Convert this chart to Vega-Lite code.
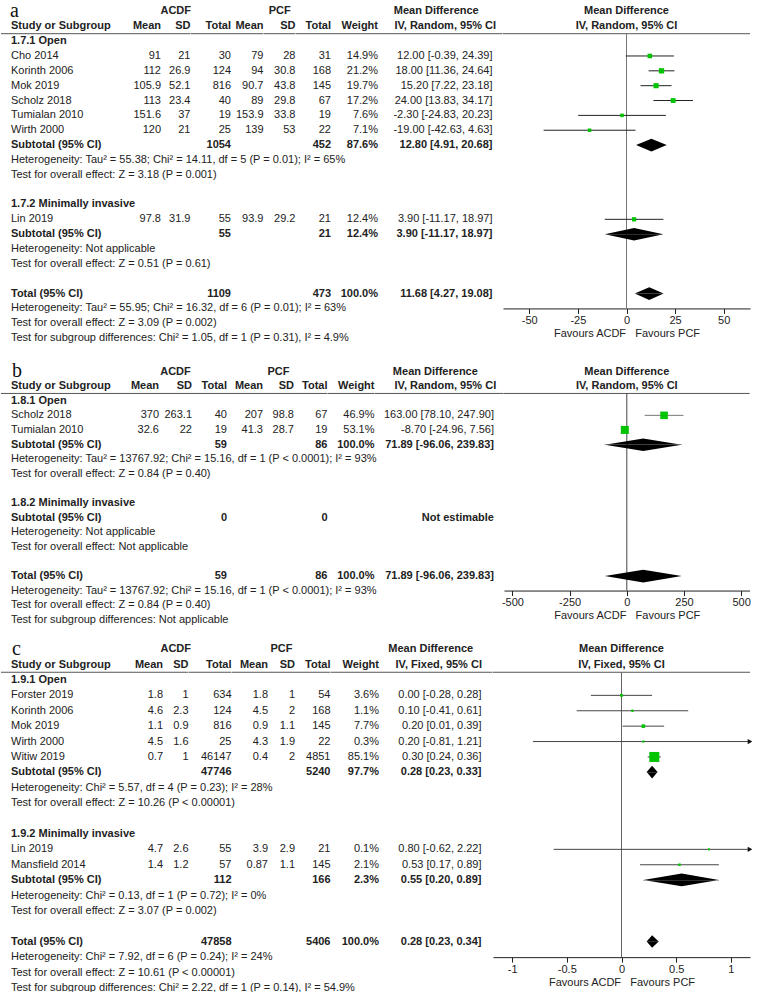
{
"$schema": "https://vega.github.io/schema/vega-lite/v6.json",
"padding": 0,
"background": "white",
"spacing": 14.25,
"config": {
 "view": {"stroke": null},
 "text": {"font": "Liberation Sans", "fontSize": 11, "color": "#222"},
 "axis": {"grid": false, "labelFont": "Liberation Sans", "labelFontSize": 11, "labelColor": "#222", "titleFont": "Liberation Sans", "titleFontSize": 11, "titleFontWeight": "normal", "titleColor": "#222", "domainColor": "#222", "tickColor": "#222", "tickSize": 5, "labelPadding": 1, "titlePadding": 2, "labelFlush": false}
},
"datasets": {
 "A": [
  {"r":1,"k":"h1","lab":"a","s1":"ACDF","s2":"PCF","ci":"Mean Difference","ph":"Mean Difference"},
  {"r":2,"k":"h2","lab":"Study or Subgroup","m1":"Mean","s1":"SD","n1":"Total","m2":"Mean","s2":"SD","n2":"Total","w":"Weight","ci":"IV, Random, 95% CI","ph":"IV, Random, 95% CI"},
  {"r":3,"k":"g","lab":"1.7.1 Open"},
  {"r":4,"k":"s","lab":"Cho 2014","m1":91,"s1":21,"n1":30,"m2":79,"s2":28,"n2":31,"w":0.149,"ci":"12.00 [-0.39, 24.39]","md":12,"lo":-0.39,"hi":24.39},
  {"r":5,"k":"s","lab":"Korinth 2006","m1":112,"s1":26.9,"n1":124,"m2":94,"s2":30.8,"n2":168,"w":0.212,"ci":"18.00 [11.36, 24.64]","md":18,"lo":11.36,"hi":24.64},
  {"r":6,"k":"s","lab":"Mok 2019","m1":105.9,"s1":52.1,"n1":816,"m2":90.7,"s2":43.8,"n2":145,"w":0.197,"ci":"15.20 [7.22, 23.18]","md":15.2,"lo":7.22,"hi":23.18},
  {"r":7,"k":"s","lab":"Scholz 2018","m1":113,"s1":23.4,"n1":40,"m2":89,"s2":29.8,"n2":67,"w":0.172,"ci":"24.00 [13.83, 34.17]","md":24,"lo":13.83,"hi":34.17},
  {"r":8,"k":"s","lab":"Tumialan 2010","m1":151.6,"s1":37,"n1":19,"m2":153.9,"s2":33.8,"n2":19,"w":0.076,"ci":"-2.30 [-24.83, 20.23]","md":-2.3,"lo":-24.83,"hi":20.23},
  {"r":9,"k":"s","lab":"Wirth 2000","m1":120,"s1":21,"n1":25,"m2":139,"s2":53,"n2":22,"w":0.071,"ci":"-19.00 [-42.63, 4.63]","md":-19,"lo":-42.63,"hi":4.63},
  {"r":10,"k":"sub","lab":"Subtotal (95% CI)","n1":1054,"n2":452,"w":0.876,"ci":"12.80 [4.91, 20.68]","md":12.8,"lo":4.91,"hi":20.68},
  {"r":11,"k":"n","lab":"Heterogeneity: Tau² = 55.38; Chi² = 14.11, df = 5 (P = 0.01); I² = 65%"},
  {"r":12,"k":"n","lab":"Test for overall effect: Z = 3.18 (P = 0.001)"},
  {"r":14,"k":"g","lab":"1.7.2 Minimally invasive"},
  {"r":15,"k":"s","lab":"Lin 2019","m1":97.8,"s1":31.9,"n1":55,"m2":93.9,"s2":29.2,"n2":21,"w":0.124,"ci":"3.90 [-11.17, 18.97]","md":3.9,"lo":-11.17,"hi":18.97},
  {"r":16,"k":"sub","lab":"Subtotal (95% CI)","n1":55,"n2":21,"w":0.124,"ci":"3.90 [-11.17, 18.97]","md":3.9,"lo":-11.17,"hi":18.97},
  {"r":17,"k":"n","lab":"Heterogeneity: Not applicable"},
  {"r":18,"k":"n","lab":"Test for overall effect: Z = 0.51 (P = 0.61)"},
  {"r":20,"k":"tot","lab":"Total (95% CI)","n1":1109,"n2":473,"w":1,"ci":"11.68 [4.27, 19.08]","md":11.68,"lo":4.27,"hi":19.08},
  {"r":21,"k":"n","lab":"Heterogeneity: Tau² = 55.95; Chi² = 16.32, df = 6 (P = 0.01); I² = 63%"},
  {"r":22,"k":"n","lab":"Test for overall effect: Z = 3.09 (P = 0.002)"},
  {"r":23,"k":"n","lab":"Test for subgroup differences: Chi² = 1.05, df = 1 (P = 0.31), I² = 4.9%"}
 ],
 "B": [
  {"r":1,"k":"h1","lab":"b","s1":"ACDF","s2":"PCF","ci":"Mean Difference","ph":"Mean Difference"},
  {"r":2,"k":"h2","lab":"Study or Subgroup","m1":"Mean","s1":"SD","n1":"Total","m2":"Mean","s2":"SD","n2":"Total","w":"Weight","ci":"IV, Random, 95% CI","ph":"IV, Random, 95% CI"},
  {"r":3,"k":"g","lab":"1.8.1 Open"},
  {"r":4,"k":"s","lab":"Scholz 2018","m1":370,"s1":263.1,"n1":40,"m2":207,"s2":98.8,"n2":67,"w":0.469,"ci":"163.00 [78.10, 247.90]","md":163,"lo":78.1,"hi":247.9},
  {"r":5,"k":"s","lab":"Tumialan 2010","m1":32.6,"s1":22,"n1":19,"m2":41.3,"s2":28.7,"n2":19,"w":0.531,"ci":"-8.70 [-24.96, 7.56]","md":-8.7,"lo":-24.96,"hi":7.56},
  {"r":6,"k":"sub","lab":"Subtotal (95% CI)","n1":59,"n2":86,"w":1,"ci":"71.89 [-96.06, 239.83]","md":71.89,"lo":-96.06,"hi":239.83},
  {"r":7,"k":"n","lab":"Heterogeneity: Tau² = 13767.92; Chi² = 15.16, df = 1 (P < 0.0001); I² = 93%"},
  {"r":8,"k":"n","lab":"Test for overall effect: Z = 0.84 (P = 0.40)"},
  {"r":10,"k":"g","lab":"1.8.2 Minimally invasive"},
  {"r":11,"k":"sub","lab":"Subtotal (95% CI)","n1":0,"n2":0,"ci":"Not estimable"},
  {"r":12,"k":"n","lab":"Heterogeneity: Not applicable"},
  {"r":13,"k":"n","lab":"Test for overall effect: Not applicable"},
  {"r":15,"k":"tot","lab":"Total (95% CI)","n1":59,"n2":86,"w":1,"ci":"71.89 [-96.06, 239.83]","md":71.89,"lo":-96.06,"hi":239.83},
  {"r":16,"k":"n","lab":"Heterogeneity: Tau² = 13767.92; Chi² = 15.16, df = 1 (P < 0.0001); I² = 93%"},
  {"r":17,"k":"n","lab":"Test for overall effect: Z = 0.84 (P = 0.40)"},
  {"r":18,"k":"n","lab":"Test for subgroup differences: Not applicable"}
 ],
 "C": [
  {"r":1,"k":"h1","lab":"c","s1":"ACDF","s2":"PCF","ci":"Mean Difference","ph":"Mean Difference"},
  {"r":2,"k":"h2","lab":"Study or Subgroup","m1":"Mean","s1":"SD","n1":"Total","m2":"Mean","s2":"SD","n2":"Total","w":"Weight","ci":"IV, Fixed, 95% CI","ph":"IV, Fixed, 95% CI"},
  {"r":3,"k":"g","lab":"1.9.1 Open"},
  {"r":4,"k":"s","lab":"Forster 2019","m1":1.8,"s1":1,"n1":634,"m2":1.8,"s2":1,"n2":54,"w":0.036,"ci":"0.00 [-0.28, 0.28]","md":0,"lo":-0.28,"hi":0.28},
  {"r":5,"k":"s","lab":"Korinth 2006","m1":4.6,"s1":2.3,"n1":124,"m2":4.5,"s2":2,"n2":168,"w":0.011,"ci":"0.10 [-0.41, 0.61]","md":0.1,"lo":-0.41,"hi":0.61},
  {"r":6,"k":"s","lab":"Mok 2019","m1":1.1,"s1":0.9,"n1":816,"m2":0.9,"s2":1.1,"n2":145,"w":0.077,"ci":"0.20 [0.01, 0.39]","md":0.2,"lo":0.01,"hi":0.39},
  {"r":7,"k":"s","lab":"Wirth 2000","m1":4.5,"s1":1.6,"n1":25,"m2":4.3,"s2":1.9,"n2":22,"w":0.003,"ci":"0.20 [-0.81, 1.21]","md":0.2,"lo":-0.81,"hi":1.21},
  {"r":8,"k":"s","lab":"Witiw 2019","m1":0.7,"s1":1,"n1":46147,"m2":0.4,"s2":2,"n2":4851,"w":0.851,"ci":"0.30 [0.24, 0.36]","md":0.3,"lo":0.24,"hi":0.36},
  {"r":9,"k":"sub","lab":"Subtotal (95% CI)","n1":47746,"n2":5240,"w":0.977,"ci":"0.28 [0.23, 0.33]","md":0.28,"lo":0.23,"hi":0.33},
  {"r":10,"k":"n","lab":"Heterogeneity: Chi² = 5.57, df = 4 (P = 0.23); I² = 28%"},
  {"r":11,"k":"n","lab":"Test for overall effect: Z = 10.26 (P < 0.00001)"},
  {"r":13,"k":"g","lab":"1.9.2 Minimally invasive"},
  {"r":14,"k":"s","lab":"Lin 2019","m1":4.7,"s1":2.6,"n1":55,"m2":3.9,"s2":2.9,"n2":21,"w":0.001,"ci":"0.80 [-0.62, 2.22]","md":0.8,"lo":-0.62,"hi":2.22},
  {"r":15,"k":"s","lab":"Mansfield 2014","m1":1.4,"s1":1.2,"n1":57,"m2":0.87,"s2":1.1,"n2":145,"w":0.021,"ci":"0.53 [0.17, 0.89]","md":0.53,"lo":0.17,"hi":0.89},
  {"r":16,"k":"sub","lab":"Subtotal (95% CI)","n1":112,"n2":166,"w":0.023,"ci":"0.55 [0.20, 0.89]","md":0.55,"lo":0.2,"hi":0.89},
  {"r":17,"k":"n","lab":"Heterogeneity: Chi² = 0.13, df = 1 (P = 0.72); I² = 0%"},
  {"r":18,"k":"n","lab":"Test for overall effect: Z = 3.07 (P = 0.002)"},
  {"r":20,"k":"tot","lab":"Total (95% CI)","n1":47858,"n2":5406,"w":1,"ci":"0.28 [0.23, 0.34]","md":0.28,"lo":0.23,"hi":0.34},
  {"r":21,"k":"n","lab":"Heterogeneity: Chi² = 7.92, df = 6 (P = 0.24); I² = 24%"},
  {"r":22,"k":"n","lab":"Test for overall effect: Z = 10.61 (P < 0.00001)"},
  {"r":23,"k":"n","lab":"Test for subgroup differences: Chi² = 2.22, df = 1 (P = 0.14), I² = 54.9%"}
 ]
},
"vconcat": [
 {"spacing": 0, "bounds": "flush", "hconcat": [
  {"width":130,"height":341.55,"data":{"name":"A"},"encoding":{"y":{"field":"r","type":"quantitative","scale":{"domain":[0.5,23.5],"reverse":true,"nice":false,"zero":false},"axis":null}},"layer":[
   {"transform":[{"filter":"datum.k=='h2'"}],"mark":{"type":"rule","color":"#555"},"encoding":{"y":{"datum":2.5,"type":"quantitative"}}},
   {"transform":[{"filter":"datum.k=='h1'"}],"mark":{"type":"text","align":"left","baseline":"alphabetic","font":"Liberation Serif","fontSize":20,"color":"#111","dx":9,"dy":5.5},"encoding":{"x":{"value":0},"text":{"field":"lab","type":"nominal"}}},
   {"transform":[{"filter":"datum.k=='h2'||datum.k=='g'||datum.k=='sub'||datum.k=='tot'"}],"mark":{"type":"text","align":"left","fontWeight":"bold","dx":10},"encoding":{"x":{"value":0},"text":{"field":"lab","type":"nominal"}}},
   {"transform":[{"filter":"datum.k=='s'||datum.k=='n'"}],"mark":{"type":"text","align":"left","dx":10},"encoding":{"x":{"value":0},"text":{"field":"lab","type":"nominal"}}}
  ]},
  {"width":30,"height":341.55,"data":{"name":"A"},"encoding":{"y":{"field":"r","type":"quantitative","scale":{"domain":[0.5,23.5],"reverse":true,"nice":false,"zero":false},"axis":null}},"layer":[
   {"transform":[{"filter":"datum.k=='h2'"}],"mark":{"type":"rule","color":"#555"},"encoding":{"y":{"datum":2.5,"type":"quantitative"}}},
   {"transform":[{"filter":"datum.k=='h2'"}],"mark":{"type":"text","align":"right","fontWeight":"bold"},"encoding":{"x":{"value":"width"},"text":{"field":"m1","type":"nominal"}}},
   {"transform":[{"filter":"datum.k=='s'"}],"mark":{"type":"text","align":"right"},"encoding":{"x":{"value":"width"},"text":{"field":"m1","type":"nominal"}}}
  ]},
  {"width":29.5,"height":341.55,"data":{"name":"A"},"encoding":{"y":{"field":"r","type":"quantitative","scale":{"domain":[0.5,23.5],"reverse":true,"nice":false,"zero":false},"axis":null}},"layer":[
   {"transform":[{"filter":"datum.k=='h2'"}],"mark":{"type":"rule","color":"#555"},"encoding":{"y":{"datum":2.5,"type":"quantitative"}}},
   {"transform":[{"filter":"datum.k=='h1'"}],"mark":{"type":"text","fontWeight":"bold"},"encoding":{"text":{"field":"s1","type":"nominal"}}},
   {"transform":[{"filter":"datum.k=='h2'"}],"mark":{"type":"text","align":"right","fontWeight":"bold"},"encoding":{"x":{"value":"width"},"text":{"field":"s1","type":"nominal"}}},
   {"transform":[{"filter":"datum.k=='s'"}],"mark":{"type":"text","align":"right"},"encoding":{"x":{"value":"width"},"text":{"field":"s1","type":"nominal"}}}
  ]},
  {"width":40,"height":341.55,"data":{"name":"A"},"encoding":{"y":{"field":"r","type":"quantitative","scale":{"domain":[0.5,23.5],"reverse":true,"nice":false,"zero":false},"axis":null}},"layer":[
   {"transform":[{"filter":"datum.k=='h2'"}],"mark":{"type":"rule","color":"#555"},"encoding":{"y":{"datum":2.5,"type":"quantitative"}}},
   {"transform":[{"filter":"datum.k=='h2'||datum.k=='sub'||datum.k=='tot'"}],"mark":{"type":"text","align":"right","fontWeight":"bold"},"encoding":{"x":{"value":"width"},"text":{"field":"n1","type":"nominal"}}},
   {"transform":[{"filter":"datum.k=='s'"}],"mark":{"type":"text","align":"right"},"encoding":{"x":{"value":"width"},"text":{"field":"n1","type":"nominal"}}}
  ]},
  {"width":32.5,"height":341.55,"data":{"name":"A"},"encoding":{"y":{"field":"r","type":"quantitative","scale":{"domain":[0.5,23.5],"reverse":true,"nice":false,"zero":false},"axis":null}},"layer":[
   {"transform":[{"filter":"datum.k=='h2'"}],"mark":{"type":"rule","color":"#555"},"encoding":{"y":{"datum":2.5,"type":"quantitative"}}},
   {"transform":[{"filter":"datum.k=='h2'"}],"mark":{"type":"text","align":"right","fontWeight":"bold"},"encoding":{"x":{"value":"width"},"text":{"field":"m2","type":"nominal"}}},
   {"transform":[{"filter":"datum.k=='s'"}],"mark":{"type":"text","align":"right"},"encoding":{"x":{"value":"width"},"text":{"field":"m2","type":"nominal"}}}
  ]},
  {"width":31.5,"height":341.55,"data":{"name":"A"},"encoding":{"y":{"field":"r","type":"quantitative","scale":{"domain":[0.5,23.5],"reverse":true,"nice":false,"zero":false},"axis":null}},"layer":[
   {"transform":[{"filter":"datum.k=='h2'"}],"mark":{"type":"rule","color":"#555"},"encoding":{"y":{"datum":2.5,"type":"quantitative"}}},
   {"transform":[{"filter":"datum.k=='h1'"}],"mark":{"type":"text","fontWeight":"bold"},"encoding":{"text":{"field":"s2","type":"nominal"}}},
   {"transform":[{"filter":"datum.k=='h2'"}],"mark":{"type":"text","align":"right","fontWeight":"bold"},"encoding":{"x":{"value":"width"},"text":{"field":"s2","type":"nominal"}}},
   {"transform":[{"filter":"datum.k=='s'"}],"mark":{"type":"text","align":"right"},"encoding":{"x":{"value":"width"},"text":{"field":"s2","type":"nominal"}}}
  ]},
  {"width":35,"height":341.55,"data":{"name":"A"},"encoding":{"y":{"field":"r","type":"quantitative","scale":{"domain":[0.5,23.5],"reverse":true,"nice":false,"zero":false},"axis":null}},"layer":[
   {"transform":[{"filter":"datum.k=='h2'"}],"mark":{"type":"rule","color":"#555"},"encoding":{"y":{"datum":2.5,"type":"quantitative"}}},
   {"transform":[{"filter":"datum.k=='h2'||datum.k=='sub'||datum.k=='tot'"}],"mark":{"type":"text","align":"right","fontWeight":"bold"},"encoding":{"x":{"value":"width"},"text":{"field":"n2","type":"nominal"}}},
   {"transform":[{"filter":"datum.k=='s'"}],"mark":{"type":"text","align":"right"},"encoding":{"x":{"value":"width"},"text":{"field":"n2","type":"nominal"}}}
  ]},
  {"width":47,"height":341.55,"data":{"name":"A"},"encoding":{"y":{"field":"r","type":"quantitative","scale":{"domain":[0.5,23.5],"reverse":true,"nice":false,"zero":false},"axis":null}},"layer":[
   {"transform":[{"filter":"datum.k=='h2'"}],"mark":{"type":"rule","color":"#555"},"encoding":{"y":{"datum":2.5,"type":"quantitative"}}},
   {"transform":[{"filter":"datum.k=='h2'"}],"mark":{"type":"text","align":"right","fontWeight":"bold"},"encoding":{"x":{"value":"width"},"text":{"field":"w","type":"nominal"}}},
   {"transform":[{"filter":"(datum.k=='sub'||datum.k=='tot')&&isValid(datum.w)"}],"mark":{"type":"text","align":"right","fontWeight":"bold"},"encoding":{"x":{"value":"width"},"text":{"field":"w","type":"quantitative","format":".1%"}}},
   {"transform":[{"filter":"datum.k=='s'"}],"mark":{"type":"text","align":"right"},"encoding":{"x":{"value":"width"},"text":{"field":"w","type":"quantitative","format":".1%"}}}
  ]},
  {"width":124.5,"height":341.55,"data":{"name":"A"},"encoding":{"y":{"field":"r","type":"quantitative","scale":{"domain":[0.5,23.5],"reverse":true,"nice":false,"zero":false},"axis":null}},"layer":[
   {"transform":[{"filter":"datum.k=='h2'"}],"mark":{"type":"rule","color":"#555"},"encoding":{"y":{"datum":2.5,"type":"quantitative"}}},
   {"transform":[{"filter":"datum.k=='h1'"}],"mark":{"type":"text","fontWeight":"bold","dx":-4},"encoding":{"text":{"field":"ci","type":"nominal"}}},
   {"transform":[{"filter":"datum.k=='h2'"}],"mark":{"type":"text","fontWeight":"bold","dx":5},"encoding":{"text":{"field":"ci","type":"nominal"}}},
   {"transform":[{"filter":"datum.k=='sub'||datum.k=='tot'"}],"mark":{"type":"text","align":"right","fontWeight":"bold","dx":-10},"encoding":{"x":{"value":"width"},"text":{"field":"ci","type":"nominal"}}},
   {"transform":[{"filter":"datum.k=='s'"}],"mark":{"type":"text","align":"right","dx":-10},"encoding":{"x":{"value":"width"},"text":{"field":"ci","type":"nominal"}}}
  ]},
  {"width":247,"height":304.425,"data":{"name":"A"},"encoding":{"y":{"field":"r","type":"ordinal","scale":{"type":"band","domain":[1,2,3,4,5,6,7,8,9,10,11,12,13,14,15,16,17,18,19,20],"paddingInner":0,"paddingOuter":0.25,"align":0},"axis":null}},
   "layer":[
   {"transform":[{"filter":"datum.k=='h1'||datum.k=='h2'"}],"mark":{"type":"text","fontWeight":"bold"},"encoding":{"x":{"datum":0,"type":"quantitative","scale":{"domain":[-63.5,63.5],"nice":false,"zero":false},"axis":{"values":[-50,-25,0,25,50],"title":"Favours ACDF\u00a0\u00a0\u00a0Favours PCF","labelExpr":"''+datum.value"}},"text":{"field":"ph","type":"nominal"}}},
   {"transform":[{"filter":"datum.k=='h2'"}],"mark":{"type":"rule","color":"#555","yOffset":7.425},"encoding":{}},
   {"transform":[{"filter":"datum.k=='h2'"}],"mark":{"type":"rule","color":"#777","yOffset":7.425},"encoding":{"x":{"datum":0,"type":"quantitative"},"y":{"datum":2,"type":"ordinal"},"y2":{"value":"height"}}},
   {"transform":[{"filter":"datum.k=='s'"}],"mark":{"type":"rule","color":"#222"},"encoding":{"x":{"field":"lo","type":"quantitative"},"x2":{"field":"hi"}}},
   {"transform":[{"filter":"datum.k=='s'"}],"mark":{"type":"point","shape":"square","filled":true,"color":"#00C400","opacity":1},"encoding":{"x":{"field":"md","type":"quantitative"},"size":{"field":"w","type":"quantitative","scale":{"domain":[0,1],"range":[4,117]},"legend":null}}},
   {"transform":[{"filter":"(datum.k=='sub'||datum.k=='tot')&&isValid(datum.md)"},{"fold":["lo","md","hi"],"as":["vk","vx"]},{"window":[{"op":"row_number","as":"vi"}],"groupby":["r"],"sort":[{"field":"vk","order":"ascending"}]}],"mark":{"type":"area","color":"#000","orient":"vertical","opacity":1},"encoding":{"x":{"field":"vx","type":"quantitative","stack":null},"y2":{"field":"r"},"yOffset":{"field":"vi","type":"quantitative","scale":{"domain":[0,0.5,2,3],"range":[13.725,7.425,7.425,1.125],"nice":false,"zero":false}},"detail":{"field":"r","type":"nominal"}}},
   {"transform":[{"filter":"(datum.k=='sub'||datum.k=='tot')&&isValid(datum.md)"},{"fold":["lo","md","hi"],"as":["vk","vx"]},{"window":[{"op":"percent_rank","as":"vi"}],"groupby":["r"],"sort":[{"field":"vk","order":"descending"}]}],"mark":{"type":"area","color":"#000","orient":"vertical","opacity":1},"encoding":{"x":{"field":"vx","type":"quantitative","stack":null},"y2":{"field":"r"},"yOffset":{"field":"vi","type":"quantitative"},"detail":{"field":"r","type":"nominal"}}}
  ]}
 ]},
 {"spacing": 11.2, "vconcat": [
  {"spacing": 0, "bounds": "flush", "hconcat": [
   {"width":130,"height":262.8,"data":{"name":"B"},"encoding":{"y":{"field":"r","type":"quantitative","scale":{"domain":[0.5,18.5],"reverse":true,"nice":false,"zero":false},"axis":null}},"layer":[
    {"transform":[{"filter":"datum.k=='h2'"}],"mark":{"type":"rule","color":"#555"},"encoding":{"y":{"datum":2.5,"type":"quantitative"}}},
    {"transform":[{"filter":"datum.k=='h1'"}],"mark":{"type":"text","align":"left","baseline":"alphabetic","font":"Liberation Serif","fontSize":20,"color":"#111","dx":11,"dy":5.5},"encoding":{"x":{"value":0},"text":{"field":"lab","type":"nominal"}}},
    {"transform":[{"filter":"datum.k=='h2'||datum.k=='g'||datum.k=='sub'||datum.k=='tot'"}],"mark":{"type":"text","align":"left","fontWeight":"bold","dx":10},"encoding":{"x":{"value":0},"text":{"field":"lab","type":"nominal"}}},
    {"transform":[{"filter":"datum.k=='s'||datum.k=='n'"}],"mark":{"type":"text","align":"left","dx":10},"encoding":{"x":{"value":0},"text":{"field":"lab","type":"nominal"}}}
   ]},
   {"width":28,"height":262.8,"data":{"name":"B"},"encoding":{"y":{"field":"r","type":"quantitative","scale":{"domain":[0.5,18.5],"reverse":true,"nice":false,"zero":false},"axis":null}},"layer":[
    {"transform":[{"filter":"datum.k=='h2'"}],"mark":{"type":"rule","color":"#555"},"encoding":{"y":{"datum":2.5,"type":"quantitative"}}},
    {"transform":[{"filter":"datum.k=='h2'"}],"mark":{"type":"text","align":"right","fontWeight":"bold"},"encoding":{"x":{"value":"width"},"text":{"field":"m1","type":"nominal"}}},
    {"transform":[{"filter":"datum.k=='s'"}],"mark":{"type":"text","align":"right"},"encoding":{"x":{"value":"width"},"text":{"field":"m1","type":"nominal"}}}
   ]},
   {"width":33,"height":262.8,"data":{"name":"B"},"encoding":{"y":{"field":"r","type":"quantitative","scale":{"domain":[0.5,18.5],"reverse":true,"nice":false,"zero":false},"axis":null}},"layer":[
    {"transform":[{"filter":"datum.k=='h2'"}],"mark":{"type":"rule","color":"#555"},"encoding":{"y":{"datum":2.5,"type":"quantitative"}}},
    {"transform":[{"filter":"datum.k=='h1'"}],"mark":{"type":"text","fontWeight":"bold"},"encoding":{"text":{"field":"s1","type":"nominal"}}},
    {"transform":[{"filter":"datum.k=='h2'"}],"mark":{"type":"text","align":"right","fontWeight":"bold"},"encoding":{"x":{"value":"width"},"text":{"field":"s1","type":"nominal"}}},
    {"transform":[{"filter":"datum.k=='s'"}],"mark":{"type":"text","align":"right"},"encoding":{"x":{"value":"width"},"text":{"field":"s1","type":"nominal"}}}
   ]},
   {"width":35,"height":262.8,"data":{"name":"B"},"encoding":{"y":{"field":"r","type":"quantitative","scale":{"domain":[0.5,18.5],"reverse":true,"nice":false,"zero":false},"axis":null}},"layer":[
    {"transform":[{"filter":"datum.k=='h2'"}],"mark":{"type":"rule","color":"#555"},"encoding":{"y":{"datum":2.5,"type":"quantitative"}}},
    {"transform":[{"filter":"datum.k=='h2'||datum.k=='sub'||datum.k=='tot'"}],"mark":{"type":"text","align":"right","fontWeight":"bold"},"encoding":{"x":{"value":"width"},"text":{"field":"n1","type":"nominal"}}},
    {"transform":[{"filter":"datum.k=='s'"}],"mark":{"type":"text","align":"right"},"encoding":{"x":{"value":"width"},"text":{"field":"n1","type":"nominal"}}}
   ]},
   {"width":36,"height":262.8,"data":{"name":"B"},"encoding":{"y":{"field":"r","type":"quantitative","scale":{"domain":[0.5,18.5],"reverse":true,"nice":false,"zero":false},"axis":null}},"layer":[
    {"transform":[{"filter":"datum.k=='h2'"}],"mark":{"type":"rule","color":"#555"},"encoding":{"y":{"datum":2.5,"type":"quantitative"}}},
    {"transform":[{"filter":"datum.k=='h2'"}],"mark":{"type":"text","align":"right","fontWeight":"bold"},"encoding":{"x":{"value":"width"},"text":{"field":"m2","type":"nominal"}}},
    {"transform":[{"filter":"datum.k=='s'"}],"mark":{"type":"text","align":"right"},"encoding":{"x":{"value":"width"},"text":{"field":"m2","type":"nominal"}}}
   ]},
   {"width":31,"height":262.8,"data":{"name":"B"},"encoding":{"y":{"field":"r","type":"quantitative","scale":{"domain":[0.5,18.5],"reverse":true,"nice":false,"zero":false},"axis":null}},"layer":[
    {"transform":[{"filter":"datum.k=='h2'"}],"mark":{"type":"rule","color":"#555"},"encoding":{"y":{"datum":2.5,"type":"quantitative"}}},
    {"transform":[{"filter":"datum.k=='h1'"}],"mark":{"type":"text","fontWeight":"bold"},"encoding":{"text":{"field":"s2","type":"nominal"}}},
    {"transform":[{"filter":"datum.k=='h2'"}],"mark":{"type":"text","align":"right","fontWeight":"bold"},"encoding":{"x":{"value":"width"},"text":{"field":"s2","type":"nominal"}}},
    {"transform":[{"filter":"datum.k=='s'"}],"mark":{"type":"text","align":"right"},"encoding":{"x":{"value":"width"},"text":{"field":"s2","type":"nominal"}}}
   ]},
   {"width":33.5,"height":262.8,"data":{"name":"B"},"encoding":{"y":{"field":"r","type":"quantitative","scale":{"domain":[0.5,18.5],"reverse":true,"nice":false,"zero":false},"axis":null}},"layer":[
    {"transform":[{"filter":"datum.k=='h2'"}],"mark":{"type":"rule","color":"#555"},"encoding":{"y":{"datum":2.5,"type":"quantitative"}}},
    {"transform":[{"filter":"datum.k=='h2'||datum.k=='sub'||datum.k=='tot'"}],"mark":{"type":"text","align":"right","fontWeight":"bold"},"encoding":{"x":{"value":"width"},"text":{"field":"n2","type":"nominal"}}},
    {"transform":[{"filter":"datum.k=='s'"}],"mark":{"type":"text","align":"right"},"encoding":{"x":{"value":"width"},"text":{"field":"n2","type":"nominal"}}}
   ]},
   {"width":46.5,"height":262.8,"data":{"name":"B"},"encoding":{"y":{"field":"r","type":"quantitative","scale":{"domain":[0.5,18.5],"reverse":true,"nice":false,"zero":false},"axis":null}},"layer":[
    {"transform":[{"filter":"datum.k=='h2'"}],"mark":{"type":"rule","color":"#555"},"encoding":{"y":{"datum":2.5,"type":"quantitative"}}},
    {"transform":[{"filter":"datum.k=='h2'"}],"mark":{"type":"text","align":"right","fontWeight":"bold"},"encoding":{"x":{"value":"width"},"text":{"field":"w","type":"nominal"}}},
    {"transform":[{"filter":"(datum.k=='sub'||datum.k=='tot')&&isValid(datum.w)"}],"mark":{"type":"text","align":"right","fontWeight":"bold"},"encoding":{"x":{"value":"width"},"text":{"field":"w","type":"quantitative","format":".1%"}}},
    {"transform":[{"filter":"datum.k=='s'"}],"mark":{"type":"text","align":"right"},"encoding":{"x":{"value":"width"},"text":{"field":"w","type":"quantitative","format":".1%"}}}
   ]},
   {"width":128.7,"height":262.8,"data":{"name":"B"},"encoding":{"y":{"field":"r","type":"quantitative","scale":{"domain":[0.5,18.5],"reverse":true,"nice":false,"zero":false},"axis":null}},"layer":[
    {"transform":[{"filter":"datum.k=='h2'"}],"mark":{"type":"rule","color":"#555"},"encoding":{"y":{"datum":2.5,"type":"quantitative"}}},
    {"transform":[{"filter":"datum.k=='h1'"}],"mark":{"type":"text","fontWeight":"bold","dx":-4},"encoding":{"text":{"field":"ci","type":"nominal"}}},
    {"transform":[{"filter":"datum.k=='h2'"}],"mark":{"type":"text","fontWeight":"bold","dx":6},"encoding":{"text":{"field":"ci","type":"nominal"}}},
    {"transform":[{"filter":"datum.k=='sub'||datum.k=='tot'"}],"mark":{"type":"text","align":"right","fontWeight":"bold","dx":-9.7},"encoding":{"x":{"value":"width"},"text":{"field":"ci","type":"nominal"}}},
    {"transform":[{"filter":"datum.k=='s'"}],"mark":{"type":"text","align":"right","dx":-9.7},"encoding":{"x":{"value":"width"},"text":{"field":"ci","type":"nominal"}}}
   ]},
   {"width":245.6,"height":226.3,"data":{"name":"B"},"encoding":{"y":{"field":"r","type":"ordinal","scale":{"type":"band","domain":[1,2,3,4,5,6,7,8,9,10,11,12,13,14,15],"paddingInner":0,"paddingOuter":0.25,"align":0},"axis":null}},
    "layer":[
    {"transform":[{"filter":"datum.k=='h1'||datum.k=='h2'"}],"mark":{"type":"text","fontWeight":"bold"},"encoding":{"x":{"datum":0,"type":"quantitative","scale":{"domain":[-537,537],"nice":false,"zero":false},"axis":{"values":[-500,-250,0,250,500],"title":"Favours ACDF\u00a0\u00a0\u00a0Favours PCF","labelExpr":"''+datum.value"}},"text":{"field":"ph","type":"nominal"}}},
    {"transform":[{"filter":"datum.k=='h2'"}],"mark":{"type":"rule","color":"#555","yOffset":7.3},"encoding":{}},
    {"transform":[{"filter":"datum.k=='h2'"}],"mark":{"type":"rule","color":"#444","yOffset":7.3},"encoding":{"x":{"datum":0,"type":"quantitative"},"y":{"datum":2,"type":"ordinal"},"y2":{"value":"height"}}},
    {"transform":[{"filter":"datum.k=='s'"}],"mark":{"type":"rule","color":"#777"},"encoding":{"x":{"field":"lo","type":"quantitative"},"x2":{"field":"hi"}}},
    {"transform":[{"filter":"datum.k=='s'"}],"mark":{"type":"point","shape":"square","filled":true,"color":"#00C400","opacity":1},"encoding":{"x":{"field":"md","type":"quantitative"},"size":{"field":"w","type":"quantitative","scale":{"domain":[0,1],"range":[4,166]},"legend":null}}},
    {"transform":[{"filter":"(datum.k=='sub'||datum.k=='tot')&&isValid(datum.md)"},{"fold":["lo","md","hi"],"as":["vk","vx"]},{"window":[{"op":"row_number","as":"vi"}],"groupby":["r"],"sort":[{"field":"vk","order":"ascending"}]}],"mark":{"type":"area","color":"#000","orient":"vertical","opacity":1},"encoding":{"x":{"field":"vx","type":"quantitative","stack":null},"y2":{"field":"r"},"yOffset":{"field":"vi","type":"quantitative","scale":{"domain":[0,0.5,2,3],"range":[13.3,7.3,7.3,1.3],"nice":false,"zero":false}},"detail":{"field":"r","type":"nominal"}}},
    {"transform":[{"filter":"(datum.k=='sub'||datum.k=='tot')&&isValid(datum.md)"},{"fold":["lo","md","hi"],"as":["vk","vx"]},{"window":[{"op":"percent_rank","as":"vi"}],"groupby":["r"],"sort":[{"field":"vk","order":"descending"}]}],"mark":{"type":"area","color":"#000","orient":"vertical","opacity":1},"encoding":{"x":{"field":"vx","type":"quantitative","stack":null},"y2":{"field":"r"},"yOffset":{"field":"vi","type":"quantitative"},"detail":{"field":"r","type":"nominal"}}}
   ]}
  ]},
  {"spacing": 0, "bounds": "flush", "hconcat": [
   {"width":130,"height":354.2,"data":{"name":"C"},"encoding":{"y":{"field":"r","type":"quantitative","scale":{"domain":[0.5,23.5],"reverse":true,"nice":false,"zero":false},"axis":null}},"layer":[
    {"transform":[{"filter":"datum.k=='h2'"}],"mark":{"type":"rule","color":"#555"},"encoding":{"y":{"datum":2.5,"type":"quantitative"}}},
    {"transform":[{"filter":"datum.k=='h1'"}],"mark":{"type":"text","align":"left","baseline":"alphabetic","font":"Liberation Serif","fontSize":20,"color":"#111","dx":11,"dy":5.5},"encoding":{"x":{"value":0},"text":{"field":"lab","type":"nominal"}}},
    {"transform":[{"filter":"datum.k=='h2'||datum.k=='g'||datum.k=='sub'||datum.k=='tot'"}],"mark":{"type":"text","align":"left","fontWeight":"bold","dx":10},"encoding":{"x":{"value":0},"text":{"field":"lab","type":"nominal"}}},
    {"transform":[{"filter":"datum.k=='s'||datum.k=='n'"}],"mark":{"type":"text","align":"left","dx":10},"encoding":{"x":{"value":0},"text":{"field":"lab","type":"nominal"}}}
   ]},
   {"width":32,"height":354.2,"data":{"name":"C"},"encoding":{"y":{"field":"r","type":"quantitative","scale":{"domain":[0.5,23.5],"reverse":true,"nice":false,"zero":false},"axis":null}},"layer":[
    {"transform":[{"filter":"datum.k=='h2'"}],"mark":{"type":"rule","color":"#555"},"encoding":{"y":{"datum":2.5,"type":"quantitative"}}},
    {"transform":[{"filter":"datum.k=='h2'"}],"mark":{"type":"text","align":"right","fontWeight":"bold"},"encoding":{"x":{"value":"width"},"text":{"field":"m1","type":"nominal"}}},
    {"transform":[{"filter":"datum.k=='s'"}],"mark":{"type":"text","align":"right"},"encoding":{"x":{"value":"width"},"text":{"field":"m1","type":"nominal"}}}
   ]},
   {"width":25.5,"height":354.2,"data":{"name":"C"},"encoding":{"y":{"field":"r","type":"quantitative","scale":{"domain":[0.5,23.5],"reverse":true,"nice":false,"zero":false},"axis":null}},"layer":[
    {"transform":[{"filter":"datum.k=='h2'"}],"mark":{"type":"rule","color":"#555"},"encoding":{"y":{"datum":2.5,"type":"quantitative"}}},
    {"transform":[{"filter":"datum.k=='h1'"}],"mark":{"type":"text","fontWeight":"bold"},"encoding":{"text":{"field":"s1","type":"nominal"}}},
    {"transform":[{"filter":"datum.k=='h2'"}],"mark":{"type":"text","align":"right","fontWeight":"bold"},"encoding":{"x":{"value":"width"},"text":{"field":"s1","type":"nominal"}}},
    {"transform":[{"filter":"datum.k=='s'"}],"mark":{"type":"text","align":"right"},"encoding":{"x":{"value":"width"},"text":{"field":"s1","type":"nominal"}}}
   ]},
   {"width":42.5,"height":354.2,"data":{"name":"C"},"encoding":{"y":{"field":"r","type":"quantitative","scale":{"domain":[0.5,23.5],"reverse":true,"nice":false,"zero":false},"axis":null}},"layer":[
    {"transform":[{"filter":"datum.k=='h2'"}],"mark":{"type":"rule","color":"#555"},"encoding":{"y":{"datum":2.5,"type":"quantitative"}}},
    {"transform":[{"filter":"datum.k=='h2'||datum.k=='sub'||datum.k=='tot'"}],"mark":{"type":"text","align":"right","fontWeight":"bold"},"encoding":{"x":{"value":"width"},"text":{"field":"n1","type":"nominal"}}},
    {"transform":[{"filter":"datum.k=='s'"}],"mark":{"type":"text","align":"right"},"encoding":{"x":{"value":"width"},"text":{"field":"n1","type":"nominal"}}}
   ]},
   {"width":36,"height":354.2,"data":{"name":"C"},"encoding":{"y":{"field":"r","type":"quantitative","scale":{"domain":[0.5,23.5],"reverse":true,"nice":false,"zero":false},"axis":null}},"layer":[
    {"transform":[{"filter":"datum.k=='h2'"}],"mark":{"type":"rule","color":"#555"},"encoding":{"y":{"datum":2.5,"type":"quantitative"}}},
    {"transform":[{"filter":"datum.k=='h2'"}],"mark":{"type":"text","align":"right","fontWeight":"bold"},"encoding":{"x":{"value":"width"},"text":{"field":"m2","type":"nominal"}}},
    {"transform":[{"filter":"datum.k=='s'"}],"mark":{"type":"text","align":"right"},"encoding":{"x":{"value":"width"},"text":{"field":"m2","type":"nominal"}}}
   ]},
   {"width":27,"height":354.2,"data":{"name":"C"},"encoding":{"y":{"field":"r","type":"quantitative","scale":{"domain":[0.5,23.5],"reverse":true,"nice":false,"zero":false},"axis":null}},"layer":[
    {"transform":[{"filter":"datum.k=='h2'"}],"mark":{"type":"rule","color":"#555"},"encoding":{"y":{"datum":2.5,"type":"quantitative"}}},
    {"transform":[{"filter":"datum.k=='h1'"}],"mark":{"type":"text","fontWeight":"bold"},"encoding":{"text":{"field":"s2","type":"nominal"}}},
    {"transform":[{"filter":"datum.k=='h2'"}],"mark":{"type":"text","align":"right","fontWeight":"bold"},"encoding":{"x":{"value":"width"},"text":{"field":"s2","type":"nominal"}}},
    {"transform":[{"filter":"datum.k=='s'"}],"mark":{"type":"text","align":"right"},"encoding":{"x":{"value":"width"},"text":{"field":"s2","type":"nominal"}}}
   ]},
   {"width":35.5,"height":354.2,"data":{"name":"C"},"encoding":{"y":{"field":"r","type":"quantitative","scale":{"domain":[0.5,23.5],"reverse":true,"nice":false,"zero":false},"axis":null}},"layer":[
    {"transform":[{"filter":"datum.k=='h2'"}],"mark":{"type":"rule","color":"#555"},"encoding":{"y":{"datum":2.5,"type":"quantitative"}}},
    {"transform":[{"filter":"datum.k=='h2'||datum.k=='sub'||datum.k=='tot'"}],"mark":{"type":"text","align":"right","fontWeight":"bold"},"encoding":{"x":{"value":"width"},"text":{"field":"n2","type":"nominal"}}},
    {"transform":[{"filter":"datum.k=='s'"}],"mark":{"type":"text","align":"right"},"encoding":{"x":{"value":"width"},"text":{"field":"n2","type":"nominal"}}}
   ]},
   {"width":48,"height":354.2,"data":{"name":"C"},"encoding":{"y":{"field":"r","type":"quantitative","scale":{"domain":[0.5,23.5],"reverse":true,"nice":false,"zero":false},"axis":null}},"layer":[
    {"transform":[{"filter":"datum.k=='h2'"}],"mark":{"type":"rule","color":"#555"},"encoding":{"y":{"datum":2.5,"type":"quantitative"}}},
    {"transform":[{"filter":"datum.k=='h2'"}],"mark":{"type":"text","align":"right","fontWeight":"bold"},"encoding":{"x":{"value":"width"},"text":{"field":"w","type":"nominal"}}},
    {"transform":[{"filter":"(datum.k=='sub'||datum.k=='tot')&&isValid(datum.w)"}],"mark":{"type":"text","align":"right","fontWeight":"bold"},"encoding":{"x":{"value":"width"},"text":{"field":"w","type":"quantitative","format":".1%"}}},
    {"transform":[{"filter":"datum.k=='s'"}],"mark":{"type":"text","align":"right"},"encoding":{"x":{"value":"width"},"text":{"field":"w","type":"quantitative","format":".1%"}}}
   ]},
   {"width":113.5,"height":354.2,"data":{"name":"C"},"encoding":{"y":{"field":"r","type":"quantitative","scale":{"domain":[0.5,23.5],"reverse":true,"nice":false,"zero":false},"axis":null}},"layer":[
    {"transform":[{"filter":"datum.k=='h2'"}],"mark":{"type":"rule","color":"#555"},"encoding":{"y":{"datum":2.5,"type":"quantitative"}}},
    {"transform":[{"filter":"datum.k=='h1'"}],"mark":{"type":"text","fontWeight":"bold","dx":-5},"encoding":{"text":{"field":"ci","type":"nominal"}}},
    {"transform":[{"filter":"datum.k=='h2'"}],"mark":{"type":"text","fontWeight":"bold","dx":3},"encoding":{"text":{"field":"ci","type":"nominal"}}},
    {"transform":[{"filter":"datum.k=='sub'||datum.k=='tot'"}],"mark":{"type":"text","align":"right","fontWeight":"bold","dx":-11},"encoding":{"x":{"value":"width"},"text":{"field":"ci","type":"nominal"}}},
    {"transform":[{"filter":"datum.k=='s'"}],"mark":{"type":"text","align":"right","dx":-11},"encoding":{"x":{"value":"width"},"text":{"field":"ci","type":"nominal"}}}
   ]},
   {"width":257,"height":315.7,"data":{"name":"C"},"encoding":{"y":{"field":"r","type":"ordinal","scale":{"type":"band","domain":[1,2,3,4,5,6,7,8,9,10,11,12,13,14,15,16,17,18,19,20],"paddingInner":0,"paddingOuter":0.25,"align":0},"axis":null}},
    "layer":[
    {"transform":[{"filter":"datum.k=='h1'||datum.k=='h2'"}],"mark":{"type":"text","fontWeight":"bold"},"encoding":{"x":{"datum":0,"type":"quantitative","scale":{"domain":[-1.175,1.175],"nice":false,"zero":false,"clamp":true},"axis":{"values":[-1,-0.5,0,0.5,1],"title":"Favours ACDF\u00a0\u00a0\u00a0Favours PCF","labelExpr":"''+datum.value"}},"text":{"field":"ph","type":"nominal"}}},
    {"transform":[{"filter":"datum.k=='h2'"}],"mark":{"type":"rule","color":"#555","yOffset":7.7},"encoding":{}},
    {"transform":[{"filter":"datum.k=='h2'"}],"mark":{"type":"rule","color":"#666","yOffset":7.7},"encoding":{"x":{"datum":0,"type":"quantitative"},"y":{"datum":2,"type":"ordinal"},"y2":{"value":"height"}}},
    {"transform":[{"filter":"datum.k=='s'"}],"mark":{"type":"rule","color":"#444"},"encoding":{"x":{"field":"lo","type":"quantitative"},"x2":{"field":"hi"}}},
    {"transform":[{"filter":"datum.k=='s'&&datum.hi>1.175"}],"mark":{"type":"point","shape":"triangle-right","filled":true,"color":"#111","size":28,"opacity":1},"encoding":{"x":{"field":"hi","type":"quantitative"}}},
    {"transform":[{"filter":"datum.k=='s'"}],"mark":{"type":"point","shape":"square","filled":true,"color":"#00C400","opacity":1},"encoding":{"x":{"field":"md","type":"quantitative"},"size":{"field":"w","type":"quantitative","scale":{"domain":[0,1],"range":[4,280]},"legend":null}}},
    {"transform":[{"filter":"(datum.k=='sub'||datum.k=='tot')&&isValid(datum.md)"},{"fold":["lo","md","hi"],"as":["vk","vx"]},{"window":[{"op":"row_number","as":"vi"}],"groupby":["r"],"sort":[{"field":"vk","order":"ascending"}]}],"mark":{"type":"area","color":"#000","orient":"vertical","opacity":1},"encoding":{"x":{"field":"vx","type":"quantitative","stack":null},"y2":{"field":"r"},"yOffset":{"field":"vi","type":"quantitative","scale":{"domain":[0,0.5,2,3],"range":[13.7,7.7,7.7,1.7],"nice":false,"zero":false}},"detail":{"field":"r","type":"nominal"}}},
    {"transform":[{"filter":"(datum.k=='sub'||datum.k=='tot')&&isValid(datum.md)"},{"fold":["lo","md","hi"],"as":["vk","vx"]},{"window":[{"op":"percent_rank","as":"vi"}],"groupby":["r"],"sort":[{"field":"vk","order":"descending"}]}],"mark":{"type":"area","color":"#000","orient":"vertical","opacity":1},"encoding":{"x":{"field":"vx","type":"quantitative","stack":null},"y2":{"field":"r"},"yOffset":{"field":"vi","type":"quantitative"},"detail":{"field":"r","type":"nominal"}}}
   ]}
  ]}
 ]}
]
}
